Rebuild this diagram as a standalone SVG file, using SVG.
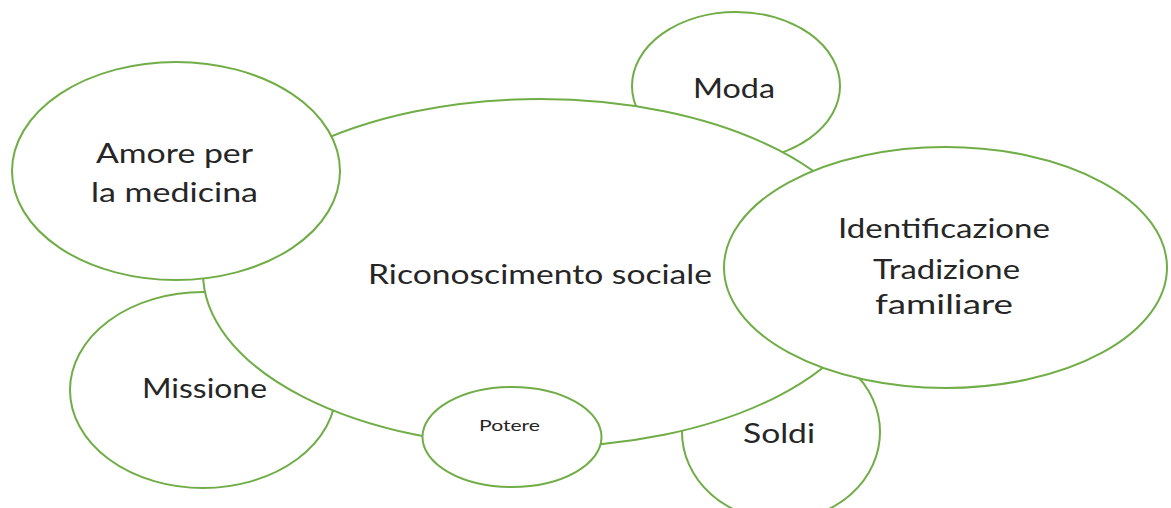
<svg xmlns="http://www.w3.org/2000/svg" width="1171" height="508" viewBox="0 0 1171 508">
<style>
.n{fill:#fff;stroke:#70AD47;stroke-width:2}
.t{font-family:Lato,"Liberation Sans",sans-serif;font-size:27px;fill:#262626}
.s{font-family:Lato,"Liberation Sans",sans-serif;font-size:16px;fill:#262626}
</style>
<rect width="1171" height="508" fill="#fff"/>
<g id="moda"><ellipse class="n" cx="736" cy="86" rx="104" ry="74"/><text class="t" x="693" y="98" textLength="82" lengthAdjust="spacingAndGlyphs">Moda</text></g>
<g id="missione"><ellipse class="n" cx="203" cy="390" rx="133" ry="98"/><text class="t" x="142" y="398" textLength="125" lengthAdjust="spacingAndGlyphs">Missione</text></g>
<g id="soldi"><ellipse class="n" cx="781" cy="432" rx="99" ry="88"/><text class="t" x="743" y="443" textLength="72" lengthAdjust="spacingAndGlyphs">Soldi</text></g>
<g id="riconoscimento"><ellipse class="n" cx="540" cy="273" rx="337" ry="174"/><text class="t" x="368" y="284" textLength="344" lengthAdjust="spacingAndGlyphs">Riconoscimento sociale</text></g>
<g id="amore"><ellipse class="n" cx="176" cy="171" rx="164" ry="109"/><text class="t" x="96" y="163" textLength="157" lengthAdjust="spacingAndGlyphs">Amore per</text><text class="t" x="91" y="202" textLength="167" lengthAdjust="spacingAndGlyphs">la medicina</text></g>
<g id="potere"><ellipse class="n" cx="512" cy="437" rx="89.5" ry="50"/><text class="s" x="479" y="431" textLength="61" lengthAdjust="spacingAndGlyphs">Potere</text></g>
<g id="identificazione"><ellipse class="n" cx="945.5" cy="267.5" rx="221.5" ry="120.5"/><text class="t" x="838" y="238" textLength="212" lengthAdjust="spacingAndGlyphs">Identificazione</text><text class="t" x="873" y="279" textLength="147" lengthAdjust="spacingAndGlyphs">Tradizione</text><text class="t" x="875" y="314" textLength="138" lengthAdjust="spacingAndGlyphs">familiare</text></g>
<g id="connectors"></g>
</svg>
